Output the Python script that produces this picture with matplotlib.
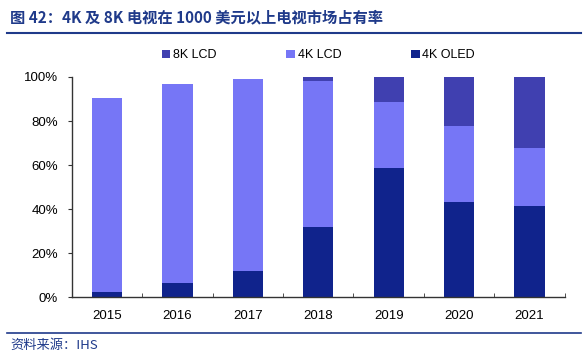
import numpy as np
import matplotlib.pyplot as plt
import matplotlib

matplotlib.rcParams['font.family'] = ['Liberation Sans', 'Noto Sans CJK SC', 'DejaVu Sans']

years = ['2015', '2016', '2017', '2018', '2019', '2020', '2021']
oled_4k = np.array([2.5, 6.5, 12.0, 31.7, 58.5, 43.2, 41.5])
lcd_4k = np.array([88.0, 90.5, 87.0, 66.5, 30.3, 34.5, 26.2])
lcd_8k = np.array([0.0, 0.0, 0.0, 1.8, 11.2, 22.3, 32.3])

c_oled = '#10238C'
c_lcd4 = '#7676F6'
c_lcd8 = '#4040B0'
c_title = '#1F3A8A'

fig = plt.figure(figsize=(5.84, 3.58), dpi=100, facecolor='white')
ax = fig.add_axes([0.123, 0.17, 0.844, 0.615])

x = np.arange(len(years))
w = 0.43
ax.bar(x, oled_4k, w, color=c_oled, label='4K OLED')
ax.bar(x, lcd_4k, w, bottom=oled_4k, color=c_lcd4, label='4K LCD')
ax.bar(x, lcd_8k, w, bottom=oled_4k + lcd_4k, color=c_lcd8, label='8K LCD')

ax.set_xlim(-0.5, 6.5)
ax.set_ylim(0, 100)
ax.set_yticks(np.arange(0, 101, 20))
ax.set_yticklabels(['%d%%' % v for v in range(0, 101, 20)], fontsize=9.5)
ax.set_xticks(x)
ax.set_xticklabels(years, fontsize=9.5)
ax.set_xticks(np.arange(-0.5, 7, 1), minor=True)
ax.tick_params(axis='x', which='major', length=0, pad=9)
ax.tick_params(axis='x', which='minor', length=3, direction='in', color='#333333')
ax.tick_params(axis='y', length=3, direction='out', color='#333333', pad=7)
for s in ['top', 'right']:
    ax.spines[s].set_visible(False)
for s in ['left', 'bottom']:
    ax.spines[s].set_color('#333333')
    ax.spines[s].set_linewidth(1.0)

h, l = ax.get_legend_handles_labels()
fig.legend(h[::-1], l[::-1], loc='center', bbox_to_anchor=(0.545, 0.845), ncol=3,
           frameon=False, fontsize=9, handlelength=0.7, handleheight=0.7,
           handletextpad=0.2, columnspacing=5.6)

fig.text(0.017, 0.953, '图 42：4K 及 8K 电视在 1000 美元以上电视市场占有率',
         fontsize=11, fontweight='bold', color=c_title, ha='left', va='center',
         family=['Noto Sans CJK SC', 'DejaVu Sans'])
fig.add_artist(plt.Line2D([0.012, 0.995], [0.907, 0.907], color=c_title, linewidth=1.5))
fig.add_artist(plt.Line2D([0.012, 0.995], [0.07, 0.07], color=c_title, linewidth=1.2))
fig.text(0.017, 0.036, '资料来源：IHS', fontsize=9.5, style='italic', color=c_title,
         ha='left', va='center', family=['Noto Sans CJK SC', 'DejaVu Sans'])

fig.savefig('out.png', dpi=100)
